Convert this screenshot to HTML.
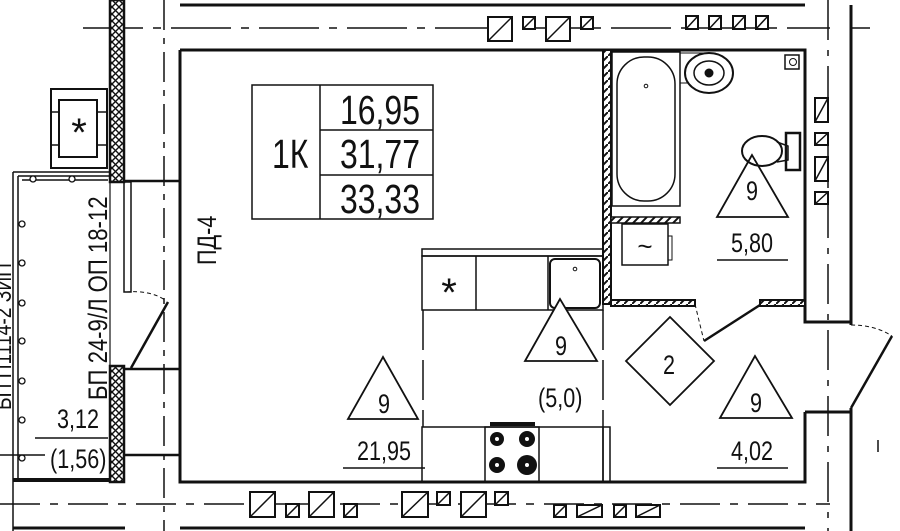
<!DOCTYPE html>
<html><head><meta charset="utf-8"><style>
html,body{margin:0;padding:0;background:#fff;}
svg{display:block;}
text{font-family:"Liberation Sans",sans-serif;fill:#111;}
</style></head><body>
<svg width="900" height="531" viewBox="0 0 900 531" xmlns="http://www.w3.org/2000/svg">
<defs>
<pattern id="xh" width="7" height="7" patternUnits="userSpaceOnUse">
<rect width="7" height="7" fill="#fff"/>
<path d="M0 0L7 7M7 0L0 7" stroke="#111" stroke-width="1.4"/>
</pattern>
<pattern id="dh" width="8" height="8" patternUnits="userSpaceOnUse">
<rect width="8" height="8" fill="#fff"/>
<path d="M0 8L8 0" stroke="#111" stroke-width="2"/>
</pattern>
</defs>
<g stroke="#111" fill="none">
<path d="M83 28H830M850 28H870" stroke-width="1.5" stroke-dasharray="60 10 8 10"/>
<path d="M164 0V531" stroke-width="1.5" stroke-dasharray="30 8 6 8"/>
<path d="M828 0V531" stroke-width="1.5" stroke-dasharray="40 10 6 10"/>
<path d="M0 504H830" stroke-width="1.5" stroke-dasharray="40 10 8 10"/>
<path d="M180 5H805" stroke-width="3"/>
<path d="M851 5V325M851 408V531" stroke-width="3"/>
<path d="M180 528H805M13 528H125" stroke-width="3"/>
<path d="M180 50H805V322H851M805 412H851M805 412V482H180V50" stroke-width="3"/>
<path d="M124 181H180M124 369H180M124 455H180" stroke-width="2.5"/>
<rect x="110" y="0" width="14" height="182" fill="url(#xh)" stroke-width="2.5"/>
<rect x="110" y="366" width="14" height="116" fill="url(#xh)" stroke-width="2.5"/>
<path d="M110 182V366" stroke-width="1.2"/>
<rect x="124" y="182" width="7" height="110" stroke-width="1.5"/>
<path d="M131 368L168 302" stroke-width="2.5"/>
<path d="M126 292Q150 290 165 300" stroke-width="1" stroke-dasharray="4 3"/>
<path d="M13 172H110M13 172V531M18 176H110M18 176V478M22 180H108" stroke-width="1.5"/>
<path d="M13 480H110" stroke-width="4" />
<g fill="#fff" stroke-width="1.3">
<circle cx="33" cy="179" r="3"/><circle cx="72" cy="179" r="3"/>
<circle cx="22" cy="224" r="3"/><circle cx="22" cy="263" r="3"/><circle cx="22" cy="303" r="3"/>
<circle cx="22" cy="341" r="3"/><circle cx="22" cy="381" r="3"/><circle cx="22" cy="420" r="3"/><circle cx="22" cy="458" r="3"/>
</g>
<path d="M0 455H45M35 438H108" stroke-width="1.5"/>
<rect x="51" y="89" width="56" height="79" stroke-width="2"/>
<rect x="59" y="100" width="38" height="57" stroke-width="2"/>
<path d="M51 112H59M51 145H59M97 112H107M97 145H107" stroke-width="1.5"/>
<rect x="252" y="85" width="181" height="134" stroke-width="1.5"/>
<path d="M320 85V219M320 130H433M320 175H433" stroke-width="1.5"/>
<rect x="603" y="50" width="8" height="254" fill="url(#dh)" stroke-width="2"/>
<rect x="611" y="300" width="84" height="6" fill="url(#dh)" stroke-width="2"/>
<rect x="760" y="300" width="45" height="6" fill="url(#dh)" stroke-width="2"/>
<rect x="611" y="217" width="69" height="6" fill="url(#dh)" stroke-width="1.5"/>
<rect x="612" y="52" width="68" height="154" stroke-width="1.5"/>
<rect x="617" y="57" width="58" height="144" rx="27" stroke-width="1.5"/>
<circle cx="646" cy="86" r="1.8" stroke-width="1"/>
<rect x="680" y="53" width="35" height="30" stroke-width="1"/>
<ellipse cx="709" cy="73" rx="24" ry="20" fill="#fff" stroke-width="2"/>
<ellipse cx="709" cy="73" rx="15" ry="12" stroke-width="1.5"/>
<circle cx="709" cy="73" r="4" fill="#111"/>
<rect x="785" y="55" width="14" height="14" stroke-width="1.5"/>
<circle cx="793" cy="62" r="3.5" stroke-width="1"/>
<ellipse cx="762" cy="151" rx="20" ry="15" stroke-width="2"/>
<path d="M777 142L788 146V160L777 162" stroke-width="1.5"/>
<rect x="786" y="133" width="14" height="37" stroke-width="2.5"/>
<rect x="622" y="224" width="46" height="41" stroke-width="1.5"/>
<path d="M668 236H672V260H668" stroke-width="1"/>
<path d="M695 304Q700 325 704 341" stroke-width="1" stroke-dasharray="4 3"/>
<path d="M704 341L760 305" stroke-width="2.5"/>
<path d="M851 408L892 336" stroke-width="2.5"/>
<path d="M851 325Q875 325 892 336" stroke-width="1" stroke-dasharray="4 3"/>
<path d="M878 440V452" stroke-width="1.5"/>
<rect x="422" y="249" width="181" height="7" stroke-width="1.5"/>
<rect x="422" y="256" width="181" height="54" stroke-width="1.5"/>
<path d="M476 256V310M548 256V310" stroke-width="1.5"/>
<rect x="550" y="259" width="50" height="49" rx="5" stroke-width="2"/>
<circle cx="575" cy="269" r="1.8" stroke-width="1"/>
<path d="M423 310V427M603 310V427" stroke-width="1.5" stroke-dasharray="40 10"/>
<rect x="422" y="427" width="181" height="55" stroke-width="1.5"/>
<rect x="603" y="427" width="7" height="55" stroke-width="1.5"/>
<rect x="485" y="427" width="54" height="55" stroke-width="1.5"/>
<path d="M490 424H535" stroke-width="4"/>
<g fill="#111" stroke="none">
<circle cx="497" cy="439" r="7"/><circle cx="527" cy="439" r="8"/>
<circle cx="497" cy="465" r="8"/><circle cx="527" cy="465" r="10"/>
</g>
<g fill="#fff" stroke="none">
<circle cx="497" cy="439" r="2"/><circle cx="527" cy="439" r="2"/>
<circle cx="497" cy="465" r="2"/><circle cx="527" cy="465" r="2"/>
</g>
<path d="M383 357L348 419H418Z" fill="#fff" stroke-width="1.8"/>
<path d="M560 299L525 361H597Z" fill="#fff" stroke-width="1.8"/>
<path d="M755 356L720 418H792Z" stroke-width="1.8"/>
<path d="M752 155L717 217H788Z" stroke-width="1.8"/>
<path d="M670 317L714 361L670 405L626 361Z" stroke-width="1.8"/>
<path d="M343 468H425M717 468H788M717 260H788" stroke-width="1.5"/>
<g stroke-width="2" fill="#fff">
<rect x="488" y="17" width="24" height="24"/><rect x="546" y="17" width="24" height="24"/>
<rect x="523" y="17" width="12" height="12"/><rect x="581" y="17" width="12" height="12"/>
<rect x="686" y="16" width="12" height="13"/><rect x="709" y="16" width="12" height="13"/>
<rect x="733" y="16" width="12" height="13"/><rect x="756" y="16" width="12" height="13"/>
<rect x="250" y="492" width="25" height="25"/><rect x="309" y="492" width="25" height="25"/>
<rect x="286" y="504" width="13" height="13"/><rect x="344" y="504" width="13" height="13"/>
<rect x="402" y="492" width="26" height="25"/><rect x="437" y="492" width="13" height="13"/>
<rect x="461" y="492" width="25" height="25"/><rect x="495" y="492" width="13" height="13"/>
<rect x="554" y="505" width="12" height="12"/><rect x="577" y="505" width="25" height="12"/>
<rect x="614" y="505" width="12" height="12"/><rect x="636" y="505" width="24" height="12"/>
<rect x="815" y="98" width="13" height="24"/><rect x="815" y="133" width="13" height="12"/>
<rect x="815" y="157" width="13" height="24"/><rect x="815" y="192" width="13" height="12"/>
</g>
<path d="M488 41L512 17M546 41L570 17M523 29L535 17M581 29L593 17M686 29L698 16M709 29L721 16M733 29L745 16M756 29L768 16
M250 517L275 492M309 517L334 492M286 517L299 504M344 517L357 504M402 517L428 492M437 505L450 492M461 517L486 492M495 505L508 492
M554 517L566 505M577 517L602 505M614 517L626 505M636 517L660 505
M815 122L828 98M815 145L828 133M815 181L828 157M815 204L828 192" stroke-width="1.5"/>
</g>
<g font-size="41">
<text transform="translate(340,124) scale(0.78,1)">16,95</text>
<text transform="translate(340,168) scale(0.78,1)">31,77</text>
<text transform="translate(340,213) scale(0.78,1)">33,33</text>
<text transform="translate(272,168) scale(0.78,1)">1К</text>
</g>
<text x="79" y="146" text-anchor="middle" font-size="40">*</text>
<text x="449" y="306" text-anchor="middle" font-size="40">*</text>
<text x="645" y="255" text-anchor="middle" font-size="26">~</text>
<g font-size="27">
<text transform="translate(378,413) scale(0.8,1)">9</text>
<text transform="translate(555,355) scale(0.8,1)">9</text>
<text transform="translate(750,412) scale(0.8,1)">9</text>
<text transform="translate(746,200) scale(0.8,1)">9</text>
<text transform="translate(663,374) scale(0.8,1)">2</text>
<text transform="translate(357,460) scale(0.8,1)">21,95</text>
<text transform="translate(538,407) scale(0.8,1)">(5,0)</text>
<text transform="translate(731,460) scale(0.8,1)">4,02</text>
<text transform="translate(731,252) scale(0.8,1)">5,80</text>
<text transform="translate(57,428) scale(0.8,1)">3,12</text>
<text transform="translate(50,468) scale(0.8,1)">(1,56)</text>
<text transform="translate(216,265) rotate(-90) scale(0.8,1)">ПД-4</text>
<text transform="translate(107,400) rotate(-90) scale(0.82,1)">БП 24-9/Л  ОП 18-12</text>
<text transform="translate(11,410) rotate(-90) scale(0.8,1)" font-size="24">БП П1114-2 ЗИП</text>
</g>
</svg>
</body></html>
